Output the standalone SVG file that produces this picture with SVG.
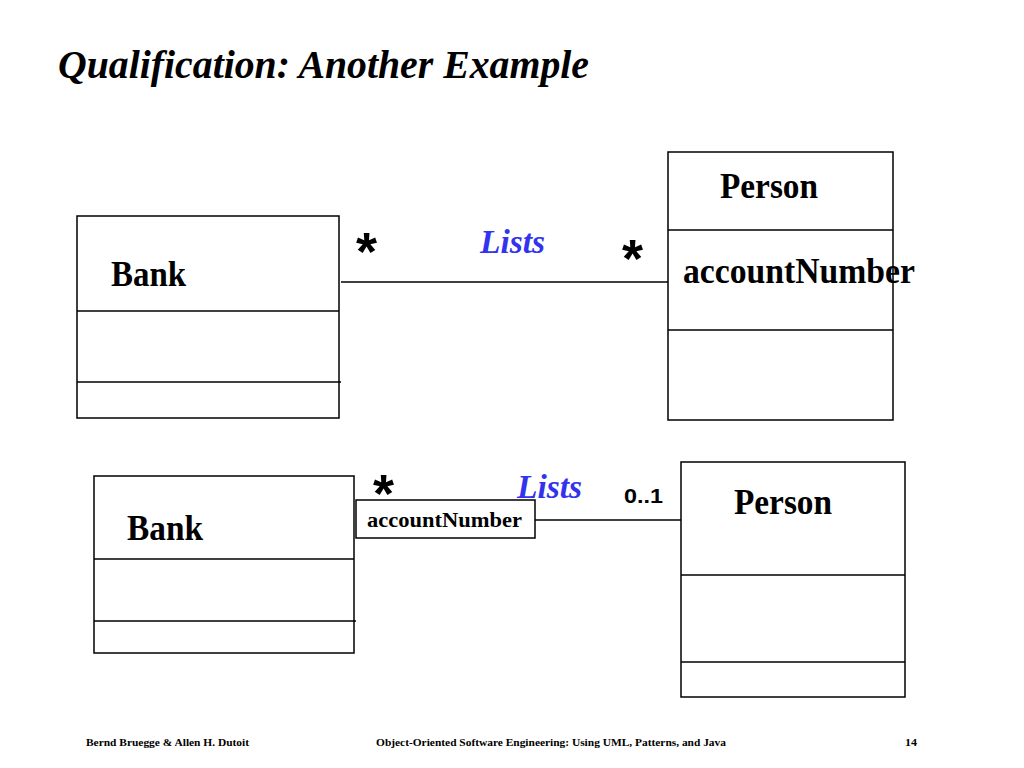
<svg xmlns="http://www.w3.org/2000/svg" width="1024" height="768" viewBox="0 0 1024 768">
<style>
.box{fill:#fff;stroke:#000;stroke-width:1.5}
.ln{stroke:#000;stroke-width:1.5;fill:none}
.cls{font-family:"Liberation Serif",serif;font-weight:bold;font-size:35px;fill:#000}
.assoc{font-family:"Liberation Serif",serif;font-weight:bold;font-style:italic;font-size:34px;fill:#3333ee}
.mult{font-family:"Liberation Sans",sans-serif;font-weight:bold;fill:#000}
.star{font-family:"Liberation Sans",sans-serif;font-weight:bold;font-size:54px;fill:#000}
.foot{font-family:"Liberation Serif",serif;font-weight:bold;font-size:11px;fill:#000}
</style>
<rect width="1024" height="768" fill="#fff"/>
<text x="58" y="78" font-family="'Liberation Serif', serif" font-weight="bold" font-style="italic" font-size="39" textLength="531" lengthAdjust="spacingAndGlyphs">Qualification: Another Example</text>

<g id="connectors">
<line class="ln" x1="341" y1="282" x2="668" y2="282"/>
<line class="ln" x1="535" y1="520" x2="681" y2="520"/>
</g>

<g id="bank1">
<rect class="box" x="77" y="216" width="262" height="202"/>
<line class="ln" x1="77" y1="311" x2="339" y2="311"/>
<line class="ln" x1="77" y1="382" x2="341" y2="382"/>
<text class="cls" x="111" y="286" textLength="75" lengthAdjust="spacingAndGlyphs">Bank</text>
</g>

<g id="person1">
<rect class="box" x="668" y="152" width="225" height="268"/>
<line class="ln" x1="668" y1="230" x2="893" y2="230"/>
<line class="ln" x1="668" y1="330" x2="893" y2="330"/>
<text class="cls" x="720" y="198" textLength="98" lengthAdjust="spacingAndGlyphs">Person</text>
<text class="cls" x="683" y="283" textLength="232" lengthAdjust="spacingAndGlyphs">accountNumber</text>
</g>

<g id="labels1">
<text class="star" x="356" y="270">*</text>
<text class="assoc" x="480" y="253" textLength="65" lengthAdjust="spacingAndGlyphs">Lists</text>
<text class="star" x="622" y="277">*</text>
</g>

<g id="bank2">
<rect class="box" x="94" y="476" width="260" height="177"/>
<line class="ln" x1="94" y1="559" x2="354" y2="559"/>
<line class="ln" x1="94" y1="621" x2="356" y2="621"/>
<text class="cls" x="127" y="540" textLength="76" lengthAdjust="spacingAndGlyphs">Bank</text>
</g>

<g id="qualifier">
<rect class="box" x="356" y="500" width="179" height="38"/>
<text x="367" y="527" font-family="'Liberation Serif', serif" font-weight="bold" font-size="21" textLength="155" lengthAdjust="spacingAndGlyphs">accountNumber</text>
</g>

<g id="person2">
<rect class="box" x="681" y="462" width="224" height="235"/>
<line class="ln" x1="681" y1="575" x2="905" y2="575"/>
<line class="ln" x1="681" y1="662" x2="905" y2="662"/>
<text class="cls" x="734" y="514" textLength="98" lengthAdjust="spacingAndGlyphs">Person</text>
</g>

<g id="labels2">
<text class="star" x="373" y="512">*</text>
<text class="assoc" x="517" y="498" textLength="65" lengthAdjust="spacingAndGlyphs">Lists</text>
<text class="mult" x="624" y="503" font-size="21" textLength="39" lengthAdjust="spacingAndGlyphs">0..1</text>
</g>

<g id="footer">
<text class="foot" x="86" y="746" textLength="163" lengthAdjust="spacingAndGlyphs">Bernd Bruegge &amp; Allen H. Dutoit</text>
<text class="foot" x="376" y="746" textLength="350" lengthAdjust="spacingAndGlyphs">Object-Oriented Software Engineering: Using UML, Patterns, and Java</text>
<text class="foot" x="905" y="746" textLength="12" lengthAdjust="spacingAndGlyphs">14</text>
</g>
</svg>
